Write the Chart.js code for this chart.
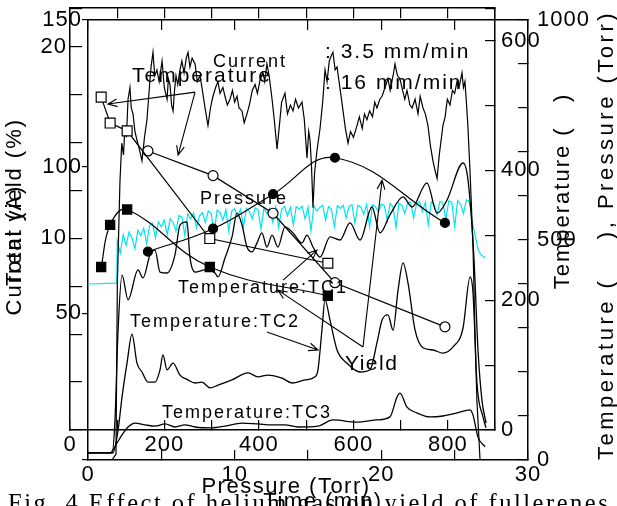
<!DOCTYPE html>
<html><head><meta charset="utf-8">
<script src="https://cdn.jsdelivr.net/npm/chart.js@4.4.0/dist/chart.umd.min.js"></script>
<style>
html,body{margin:0;padding:0;background:#fff;}
#wrap{position:relative;width:617px;height:506px;overflow:hidden;}
#wrap canvas{position:absolute;left:0;top:0;}
</style></head><body>
<div id="wrap">
<canvas id="timechart" width="617" height="506"></canvas>
<canvas id="presschart" width="617" height="506"></canvas>
</div>
<script>
// ---- run record vs time (min) ----
var currentTime=[0,1.64,1.91,2.0,2.18,2.3,2.42,2.52,2.62,2.73,
  2.86,2.95,3.07,3.2,3.34,3.5,3.68,3.85,4.02,4.2,
  4.3,4.43,4.55,4.7,4.85,5.05,5.2,5.39,5.48,5.59,
  5.7,5.8,5.9,6.0,6.12,6.27,6.4,6.55,6.7,6.82,
  6.95,7.1,7.3,7.45,7.64,7.8,7.95,8.18,8.35,8.52,
  8.7,8.86,9.0,9.2,9.34,9.5,9.68,9.85,10.0,10.16,
  10.3,10.5,10.65,10.84,11.0,11.2,11.39,11.55,11.75,11.93,
  12.05,12.2,12.35,12.55,12.7,12.89,13.05,13.2,13.43,13.6,
  13.8,13.98,14.15,14.35,14.59,14.75,14.93,15.05,15.14,15.24,
  15.34,15.45,15.6,15.82,16.0,16.16,16.3,16.45,16.6,16.7,
  16.85,16.98,17.2,17.39,17.55,17.73,17.9,18.1,18.34,18.5,
  18.7,18.85,19.02,19.2,19.4,19.55,19.7,19.9,20.05,20.25,
  20.45,20.6,20.8,20.93,21.1,21.27,21.45,21.6,21.75,21.95,
  22.1,22.3,22.5,22.65,22.84,23.0,23.18,23.35,23.52,23.65,
  23.8,23.95,24.2,24.35,24.5,24.68,24.85,25.0,25.16,25.3,
  25.5,25.6,25.7,25.8,25.9,26.05,26.25,26.4,26.52,26.73];
var currentAmp=[0,0,2,60,95,108,104,114,110,123,
  127,120,118,112,109,106,102,110,116,128,
  134,139,131,133,129,136,127,123,130,128,
  121,119,126,131,128,133,136,132,137,139,
  134,137,135,129,131,126,121,114,120,124,
  127,129,125,127,124,121,123,126,122,124,
  120,119,115,118,121,126,128,125,130,132,
  129,135,131,123,116,106,114,122,125,118,
  121,119,123,120,122,116,103,112,109,100,
  86,98,105,113,122,133,129,136,138,139,
  133,134,126,119,113,108,112,110,114,117,
  113,118,116,119,117,122,120,123,124,127,
  130,126,131,135,131,130,126,123,126,121,
  120,123,118,124,120,118,114,107,102,99,
  96,104,114,117,123,121,126,125,129,127,
  132,127,129,122,114,98,73,40,20,0];

var pressTime=[0,1.95,
  2.0,2.2,2.4,2.6,2.8,3.0,3.2,3.4,3.6,3.8,
  4.0,4.2,4.4,4.6,4.8,5.0,5.2,5.4,5.6,5.8,
  6.0,6.2,6.4,6.6,6.8,7.0,7.2,7.4,7.6,7.8,
  8.0,8.2,8.4,8.6,8.8,9.0,9.2,9.4,9.6,9.8,
  10.0,10.2,10.4,10.6,10.8,11.0,11.2,11.4,11.6,11.8,
  12.0,12.2,12.4,12.6,12.8,13.0,13.2,13.4,13.6,13.8,
  14.0,14.2,14.4,14.6,14.8,15.0,15.2,15.4,15.6,15.8,
  16.0,16.2,16.4,16.6,16.8,17.0,17.2,17.4,17.6,17.8,
  18.0,18.2,18.4,18.6,18.8,19.0,19.2,19.4,19.6,19.8,
  20.0,20.2,20.4,20.6,20.8,21.0,21.2,21.4,21.6,21.8,
  22.0,22.2,22.4,22.6,22.8,23.0,23.2,23.4,23.6,23.8,
  24.0,24.2,24.4,24.6,24.8,25.0,25.2,25.4,25.6,25.8,
  26.0,26.2,26.4,26.6,26.8,27.1];
var pressTorr=[400,402,
  498,470,512,488,518,505,480,522,510,527,
  492,533,538,505,541,530,545,512,548,540,
  520,556,552,510,559,548,561,528,555,562,
  540,566,560,515,568,562,545,569,520,566,
  571,552,570,530,572,565,548,573,568,525,
  574,560,572,540,575,528,570,576,555,574,
  535,576,570,577,548,575,520,578,566,574,
  579,545,576,570,530,578,572,579,550,577,
  580,538,579,575,558,581,530,580,576,563,
  582,578,545,583,575,528,584,579,560,585,
  586,550,582,587,565,585,535,587,580,558,
  588,584,548,589,586,530,590,582,560,591,
  588,540,510,478,466,459];

var tc1Time=[0,1.64,1.84,2.05,2.32,2.73,3.41,3.75,4.23,4.57,4.91,5.39,5.93,6.27,6.75,6.95,7.3,7.98,8.66,8.86,
  9.34,9.82,10.16,10.5,10.84,11.18,11.52,11.86,12.2,12.55,12.95,13.43,13.98,14.59,14.93,15.34,15.82,16.5,17.18,17.86,
  18.55,19.36,19.91,20.59,21.48,22.09,23.11,23.8,24.48,25.57,25.91,26.32,26.59,26.86,27.14];
var tc1Temp=[16,16,91,295,420,364,432,414,466,477,427,425,466,534,541,461,427,432,425,416,
  459,507,561,534,484,473,493,516,484,511,484,530,516,493,511,484,461,507,500,539,
  500,575,516,557,598,575,630,561,591,675,636,455,250,136,84];

var tc2Time=[0,1.7,2.05,2.32,2.66,3.0,3.34,3.68,4.09,4.57,4.91,5.11,5.39,5.8,6.27,6.82,7.3,7.77,8.32,8.86,
  9.82,10.91,11.59,12.27,13.23,13.91,14.8,15.48,15.68,15.95,16.16,16.5,16.98,17.66,18.55,19.23,19.7,20.05,20.45,20.8,
  21.14,21.48,21.82,22.3,22.84,23.52,24.2,24.89,25.57,26.05,26.25,26.52,26.93,27.14];
var tc2Temp=[16,16,68,143,220,286,220,200,177,177,205,239,205,220,193,182,175,177,164,170,
  182,198,189,193,186,175,182,189,205,295,364,318,250,220,200,205,266,318,330,295,
  386,448,402,295,255,250,243,257,300,416,380,175,98,73];

var tc3Time=[0,1.5,1.98,2.32,2.73,3.2,3.89,4.57,5.25,5.93,6.61,7.3,8.45,9.34,10.5,11.59,12.55,13.43,14.32,15.68,
  16.7,18.34,19.7,20.59,21.07,21.27,21.75,22.43,23.32,24.2,25.16,26.05,26.25,26.59,27.07];
var tc3Temp=[16,16,39,57,75,84,80,77,82,75,80,75,73,77,84,82,80,80,75,77,
  91,86,91,98,143,152,120,107,98,100,107,114,102,52,30];

// ---- yield vs helium pressure (Torr) ----
var sqTorr=[66,85,121,296,546];
var sqTemp=[513,473,461,295,257];
var sqYield=[8.5,10.7,11.5,8.5,7.0];
var ciTorr=[165,303,430,561,794];
var ciTemp=[430,392,334,227,159];
var ciYield=[9.3,10.5,12.3,14.2,10.8];

// callouts, placed in time-chart units (min, right axis)
var notes=[
  ['Current',8.52,893,18,2],
  ['Temperature',3.0,859,21,2],
  [': 3.5 mm/min',16.16,914,21,2],
  [': 16 mm/min',16.16,843,21,2],
  ['Pressure',7.64,582,18,2],
  ['Temperature:TC1',6.14,380,18,2],
  ['Temperature:TC2',2.86,302,18,2],
  ['Temperature:TC3',5.05,95,18,2],
  ['Yield',17.52,205,21,1.5]
];
var arrows=[[7.3,836,1.36,809],[7.3,836,6.14,693],[13.3,409,15.61,477],
  [12.2,291,15.68,250],[18.75,257,20.05,636],[18.75,257,12.95,386]];

var SANS='"Liberation Sans", Arial, sans-serif';
Chart.defaults.font.family=SANS;
Chart.defaults.color='#000';
Chart.defaults.animation=false;

function xy(xs,ys){return xs.map(function(x,i){return {x:x,y:ys[i]};});}

function axis(pos,min,max,step,tl,pad,size,show){
  return {
    type:'linear',position:pos,min:min,max:max,
    border:{display:true,color:'#000',width:1.5},
    grid:{drawOnChartArea:false,color:'#000',lineWidth:1.2,tickLength:tl},
    ticks:{stepSize:step,autoSkip:false,maxRotation:0,padding:pad,color:'#000',
      display:!!show,font:{family:SANS,size:22},
      callback:function(v){return show&&show(v)?String(v):'';}},
    afterFit:function(s){
      if(pos==='left'||pos==='right'){s.width=size;}else{s.height=size;}
      s.paddingTop=0;s.paddingBottom=0;s.paddingLeft=0;s.paddingRight=0;
    }
  };
}

var spacing={id:'spacing',beforeDraw:function(c){c.ctx.letterSpacing='1px';}};

function line(data,axisId,color,width,tension){
  return {data:data,yAxisID:axisId,xAxisID:'x',showLine:true,borderColor:color,borderWidth:width,
    pointRadius:0,tension:tension||0,cubicInterpolationMode:tension?'monotone':'default',fill:false};
}

var timeChart=new Chart(document.getElementById('timechart'),{
  type:'scatter',
  data:{datasets:[
    line(xy(currentTime,currentAmp),'yL','#000',1.2),
    line(xy(tc1Time,tc1Temp),'yR','#000',1.3,0.4),
    line(xy(tc2Time,tc2Temp),'yR','#000',1.3,0.4),
    line(xy(tc3Time,tc3Temp),'yR','#000',1.3,0.4),
    line(xy(pressTime,pressTorr),'yR','#00e4ee',1.2)
  ]},
  options:{
    responsive:false,devicePixelRatio:1,
    layout:{padding:{top:20,left:0,right:0,bottom:0}},
    plugins:{legend:{display:false},tooltip:{enabled:false}},
    scales:{
      x:axis('bottom',0,30,5,-10,12,46,function(v){return v%10===0;}),
      xTop:axis('top',0,30,5,-10,0,0,null),
      yL:axis('left',0,150,50,6,0,88,function(v){return v>0;}),
      yR:axis('right',0,1000,100,-10,19,89,function(v){return v%500===0;})
    }
  },
  plugins:[spacing]
});

function arrow(ctx,x1,y1,x2,y2){
  var a=Math.atan2(y2-y1,x2-x1),h=10;
  ctx.beginPath();ctx.moveTo(x1,y1);ctx.lineTo(x2,y2);
  ctx.moveTo(x2-h*Math.cos(a-0.4),y2-h*Math.sin(a-0.4));ctx.lineTo(x2,y2);
  ctx.lineTo(x2-h*Math.cos(a+0.4),y2-h*Math.sin(a+0.4));
  ctx.stroke();
}
function text(ctx,s,x,y,size,ls,opts){
  opts=opts||{};
  ctx.save();
  ctx.font=size+'px '+(opts.family||SANS);
  ctx.letterSpacing=ls+'px';
  ctx.fillStyle='#000';
  ctx.textAlign=opts.align||'left';
  ctx.textBaseline=opts.base||'alphabetic';
  ctx.translate(x,y);
  if(opts.rot){ctx.rotate(-Math.PI/2);}
  ctx.fillText(s,0,0);
  ctx.restore();
}

var callouts={id:'callouts',afterDraw:function(c){
  var ctx=c.ctx,sx=timeChart.scales.x,sy=timeChart.scales.yR;
  ctx.save();
  ctx.strokeStyle='#000';ctx.lineWidth=1.1;
  arrows.forEach(function(a){
    arrow(ctx,sx.getPixelForValue(a[0]),sy.getPixelForValue(a[1]),sx.getPixelForValue(a[2]),sy.getPixelForValue(a[3]));
  });
  ctx.restore();
  notes.forEach(function(n){text(ctx,n[0],sx.getPixelForValue(n[1]),sy.getPixelForValue(n[2]),n[3],n[4]);});
  // axis titles
  text(ctx,'Current (A)',15,250,22,2,{align:'center',base:'middle',rot:true});
  text(ctx,'Total yield (%)',15,202,22,2,{align:'center',base:'middle',rot:true});
  text(ctx,'Temperature (   )',563,191,22,2,{align:'center',base:'middle',rot:true});
  text(ctx,'Temperature (    ), Pressure (Torr)',607,235,22,3.5,{align:'center',base:'middle',rot:true});
  text(ctx,'Pressure (Torr)',286,493,22,1.5,{align:'center'});
  text(ctx,'Time (min)',323,508,22,1.5,{align:'center'});
  text(ctx,'Fig. 4 Effect of helium gas on yield of fullerenes',8,511,24.5,2.5,{family:'"Liberation Serif", "Times New Roman", serif'});
}};

function marks(data,axisId,style,r,fillc){
  return {data:data,yAxisID:axisId,xAxisID:'x',showLine:true,borderColor:'#000',borderWidth:1.2,
    tension:fillc==='#000'?0.4:0,pointStyle:style,pointRadius:r,pointBackgroundColor:fillc,
    pointBorderColor:'#000',pointBorderWidth:1.2,fill:false};
}

var pressChart=new Chart(document.getElementById('presschart'),{
  type:'scatter',
  data:{datasets:[
    marks(xy(sqTorr,sqTemp),'yR','rect',7,'#fff'),
    marks(xy(ciTorr,ciTemp),'yR','circle',5,'#fff'),
    marks(xy(sqTorr,sqYield),'yL','rect',6.5,'#000'),
    marks(xy(ciTorr,ciYield),'yL','circle',4.5,'#000')
  ]},
  options:{
    responsive:false,devicePixelRatio:1,
    layout:{padding:{top:6,left:0,right:0,bottom:0}},
    plugins:{legend:{display:false},tooltip:{enabled:false}},
    scales:{
      x:axis('bottom',0,900,100,-10,12,76,function(v){return v%200===0;}),
      xTop:axis('top',0,900,100,-10,0,0,null),
      yL:axis('left',0,22,2.5,-12,15,70,function(v){return v>0&&v%10===0;}),
      yR:axis('right',0,650,100,-10,16,122,function(v){return v%200===0&&v<=600;})
    }
  },
  plugins:[spacing,callouts]
});
</script>
</body></html>
